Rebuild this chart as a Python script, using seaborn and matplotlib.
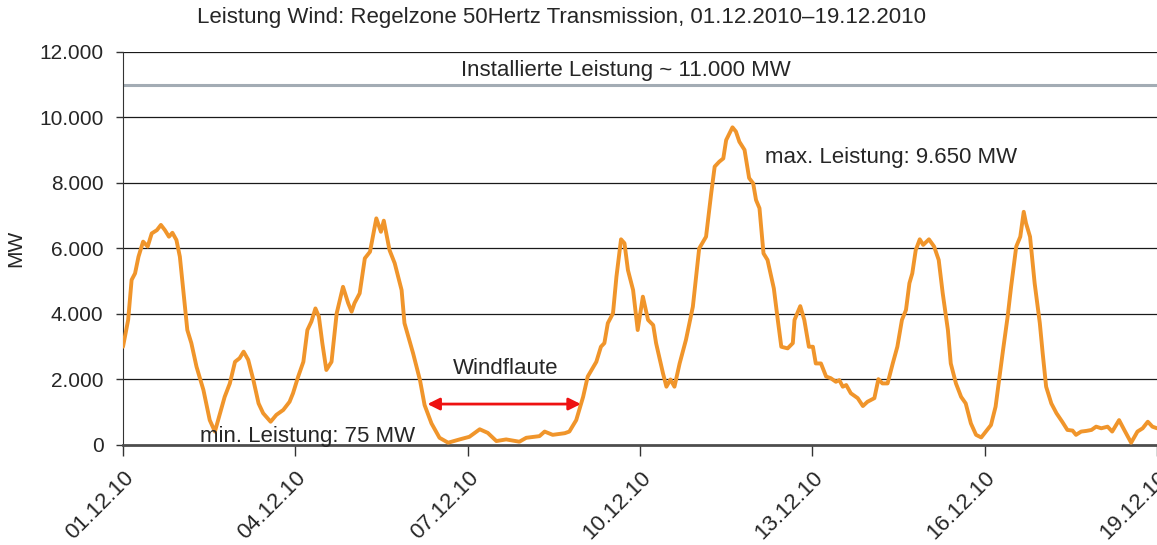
import numpy as np
import pandas as pd
import matplotlib
matplotlib.use("Agg")
import matplotlib.pyplot as plt
import seaborn as sns
from matplotlib.ticker import FuncFormatter, FixedLocator

# Wind power, 50Hertz control zone
# day offset from 01.12.2010 00:00 and power in MW
days = [0.00, 0.09, 0.15, 0.21, 0.27, 0.35, 0.43, 0.50, 0.59, 0.66, 0.73, 0.80, 0.86, 0.93, 0.99,
        1.05, 1.12, 1.19, 1.28, 1.40, 1.46, 1.51, 1.60, 1.69, 1.77, 1.86, 1.95,
        2.03, 2.10, 2.18, 2.27, 2.36, 2.44, 2.57, 2.67, 2.79, 2.90, 2.96,
        3.05, 3.14, 3.21, 3.28, 3.35, 3.41, 3.47, 3.54, 3.63, 3.72, 3.83, 3.92, 3.98,
        4.03, 4.12, 4.21, 4.30, 4.41, 4.49, 4.54, 4.64, 4.73, 4.85, 4.90,
        5.05, 5.17, 5.25, 5.37, 5.51, 5.66, 5.86,
        6.03, 6.21, 6.35, 6.50, 6.67, 6.90,
        7.02, 7.25, 7.34, 7.48, 7.69, 7.77, 7.89,
        8.01, 8.09, 8.24, 8.32, 8.38, 8.44, 8.53, 8.59, 8.67, 8.73, 8.79, 8.88, 8.96,
        9.05, 9.14, 9.23, 9.28, 9.40, 9.46, 9.53, 9.60, 9.69, 9.80, 9.92,
        10.03, 10.15, 10.24, 10.30, 10.38, 10.45, 10.50, 10.61, 10.67, 10.73, 10.82, 10.90, 10.97,
        11.02, 11.08, 11.15, 11.22, 11.33, 11.40, 11.46, 11.57, 11.66, 11.69, 11.79, 11.86, 11.94,
        12.01, 12.06, 12.15, 12.24, 12.32, 12.41, 12.47, 12.53, 12.59, 12.67, 12.79, 12.88, 12.96,
        13.08, 13.15, 13.22, 13.31, 13.40, 13.48, 13.56, 13.63, 13.69, 13.74, 13.80, 13.87, 13.93,
        14.03, 14.12, 14.20, 14.27, 14.36, 14.41, 14.50, 14.59, 14.67, 14.76, 14.85, 14.94,
        15.02, 15.11, 15.19, 15.25, 15.32, 15.40, 15.46, 15.55, 15.62, 15.68, 15.72, 15.79, 15.87, 15.96,
        16.01, 16.07, 16.16, 16.25, 16.35, 16.44, 16.53, 16.59, 16.68, 16.77, 16.86, 16.94,
        17.03, 17.14, 17.22, 17.34, 17.43, 17.55, 17.66, 17.75, 17.84, 17.92, 18.00]
mw = [3000, 3820, 5040, 5240, 5750, 6210, 6060, 6460, 6560, 6720, 6560, 6360, 6480, 6260, 5750,
      4730, 3510, 3110, 2390, 1680, 1170, 760, 410, 970, 1470, 1880, 2540,
      2650, 2850, 2600, 1980, 1270, 970, 710, 920, 1070, 1320, 1580,
      2090, 2540, 3510, 3770, 4170, 3920, 3110, 2290, 2540, 4020, 4830, 4330, 4070,
      4330, 4630, 5700, 5900, 6920, 6510, 6850, 5950, 5550, 4730, 3720,
      2800, 1980, 1220, 660, 220, 70, 170,
      250, 480, 370, 120, 170, 100,
      220, 270, 410, 310, 360, 410, 760,
      1470, 2090, 2540, 3000, 3110, 3720, 4020, 5140, 6280, 6160, 5340, 4730, 3510,
      4530, 3820, 3660, 3110, 2190, 1780, 2000, 1780, 2490, 3210, 4220,
      6000, 6360, 7690, 8500, 8650, 8750, 9310, 9700, 9570, 9260, 9010, 8150, 7990,
      7480, 7230, 5850, 5650, 4780, 3800, 3000, 2950, 3110, 3820, 4240, 3820, 3000,
      3000, 2490, 2490, 2090, 2040, 1930, 1980, 1780, 1830, 1580, 1430, 1190, 1320,
      1430, 2010, 1880, 1880, 2490, 3000, 3820, 4120, 4940, 5240, 5950, 6280, 6110,
      6280, 6060, 5650, 4630, 3510, 2490, 1880, 1470, 1270, 660, 310, 230,
      410, 610, 1170, 1980, 2900, 3920, 4830, 6060, 6360, 7120, 6770, 6360, 4940, 3720,
      2800, 1780, 1270, 970, 710, 460, 440, 310, 410, 430, 460, 560,
      510, 560, 410, 760, 460, 70, 410, 510, 710, 560, 510]

tick_days = [0, 3, 6, 9, 12, 15, 18]
tick_labels = ["01.12.10", "04.12.10", "07.12.10", "10.12.10", "13.12.10", "16.12.10", "19.12.10"]
installed_mw = 11000
flaute_start, flaute_end, flaute_level = 5.30, 7.97, 1250

df = pd.DataFrame({"day": days, "mw": mw})

sns.set_style("white")
plt.rcParams["font.family"] = ["Liberation Sans", "DejaVu Sans"]

fig = plt.figure(figsize=(11.57, 5.45), dpi=100)
ax = fig.add_axes([0.1063, 0.1835, 0.8937, 0.7211])

# grid lines every 2000 MW
for yv in range(2000, 12001, 2000):
    ax.axhline(yv, color="#1a1a1a", lw=0.9, zorder=1)
ax.axhline(installed_mw, color="#a3acb4", lw=2.2, zorder=1)

sns.lineplot(data=df, x="day", y="mw", ax=ax, color="#f0952b", lw=2.8, zorder=3)

ax.set_xlim(0, 18)
ax.set_ylim(0, 12000)
ax.yaxis.set_major_locator(FixedLocator(range(0, 12001, 2000)))
ax.yaxis.set_major_formatter(FuncFormatter(lambda v, p: f"{int(v):,}".replace(",", ".")))
ax.set_xticks(tick_days)
ax.set_xticklabels(tick_labels, rotation=45, ha="right", rotation_mode="anchor", fontsize=16)
ax.tick_params(axis="x", direction="out", length=8, width=1, color="#333333", pad=8, bottom=True)
ax.tick_params(axis="y", direction="out", length=5, width=1, color="#333333", labelsize=15,
               pad=9, left=True)
ax.set_xlabel("")
ax.set_ylabel("MW", fontsize=15, labelpad=10)

for s in ["top", "right"]:
    ax.spines[s].set_visible(False)
ax.spines["left"].set_color("#333333")
ax.spines["bottom"].set_color("#4d4d4d")
ax.spines["bottom"].set_linewidth(2)

fig.text(0.485, 0.967, "Leistung Wind: Regelzone 50Hertz Transmission, 01.12.2010\u201319.12.2010",
         ha="center", va="center", fontsize=16)
ax.text(8.75, 11450, "Installierte Leistung ~ 11.000 MW", ha="center", va="center", fontsize=16)
ax.text(11.17, 8790, "max. Leistung: 9.650 MW", ha="left", va="center", fontsize=16)
ax.text(1.34, 260, "min. Leistung: 75 MW", ha="left", va="center", fontsize=16)
ax.text(6.66, 2350, "Windflaute", ha="center", va="center", fontsize=16)
ax.annotate("", xy=(flaute_start, flaute_level), xytext=(flaute_end, flaute_level),
            arrowprops=dict(arrowstyle="<|-|>", color="#ee1111", lw=2, mutation_scale=18,
                            shrinkA=0, shrinkB=0), zorder=4)

fig.savefig("out.png", dpi=100)
